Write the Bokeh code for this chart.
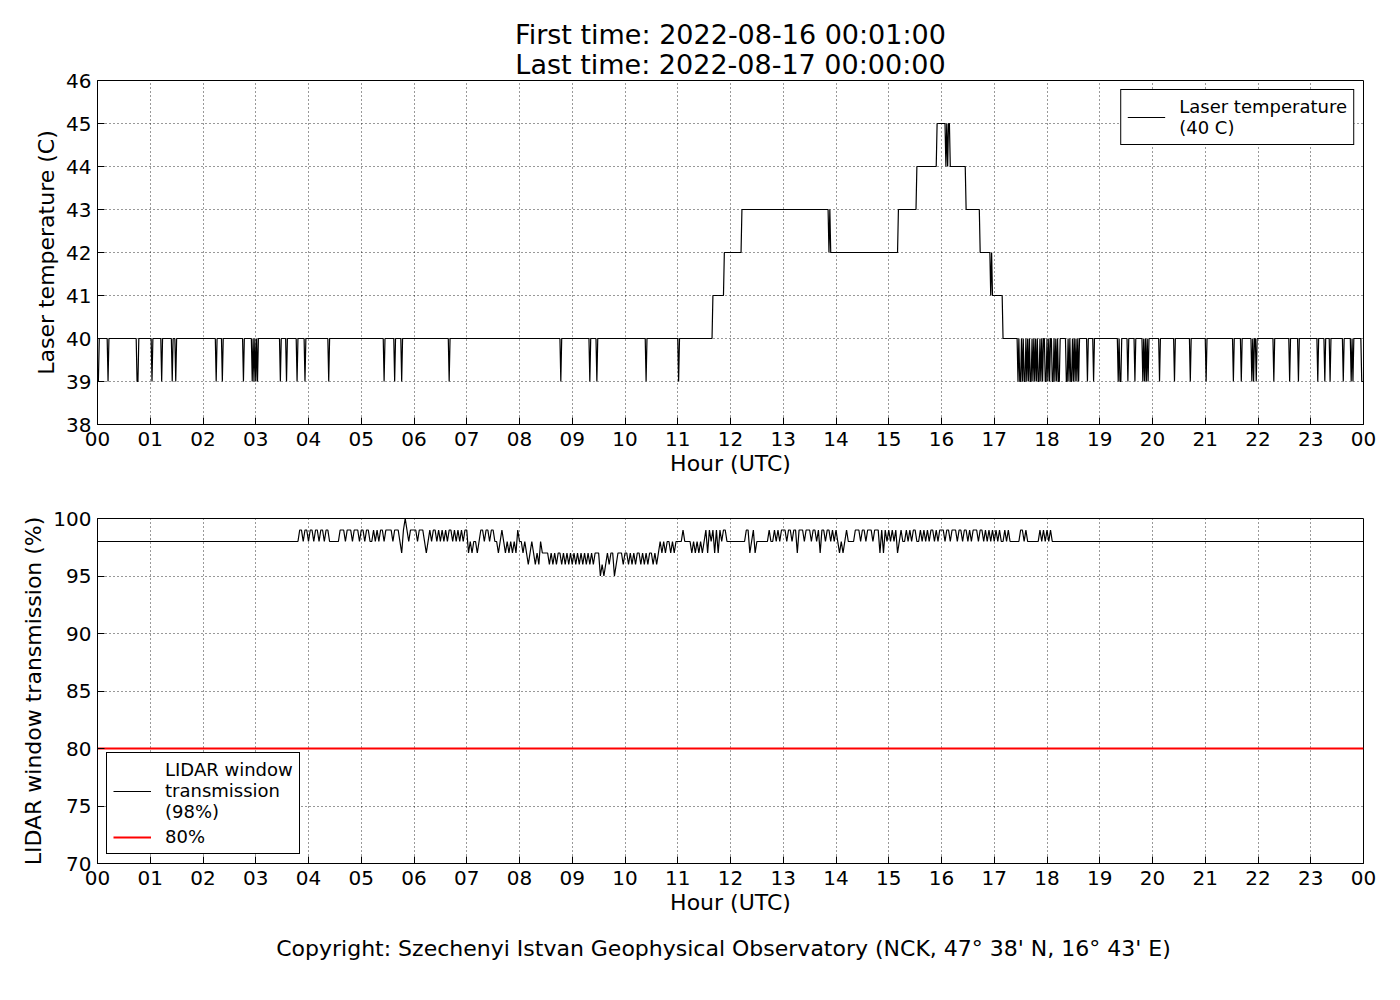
import numpy as np
from bokeh.plotting import figure
from bokeh.models import FixedTicker, Title, Legend, LegendItem, ColumnDataSource, Range1d
from bokeh.layouts import column
from bokeh.embed import file_html
from bokeh.resources import INLINE

# ---------------- data ----------------
title_first = "First time: 2022-08-16 00:01:00"
title_last = "Last time: 2022-08-17 00:00:00"
copyright_text = "Copyright: Szechenyi Istvan Geophysical Observatory (NCK, 47\u00b0  38' N, 16\u00b0  43' E)"

hour_ticks = list(range(25))
hour_labels = ["%02d" % (h % 24) for h in hour_ticks]
laser_ticks = list(range(38, 47))
lidar_ticks = [70, 75, 80, 85, 90, 95, 100]

# laser temperature, 1-minute samples (minute 1 .. 1440 of the day)
laser_step_minutes = [0, 700, 713, 733, 835, 911, 932, 955, 970, 988, 1004, 1018, 1030]
laser_step_levels = [40, 41, 42, 43, 42, 43, 44, 45, 44, 43, 42, 41, 40]
laser_flicker_minutes = [832, 834, 965, 967, 1016]
laser_flicker_levels = [42, 42, 44, 44, 41]
laser_dip_level = 39
laser_dip_minutes = [
    1, 12, 45, 46, 62, 73, 85, 89, 135, 142, 166, 176, 178, 180, 182, 208, 215,
    227, 236, 263, 326, 338, 346, 400, 527, 560, 568, 624, 661,
    1047, 1049, 1050, 1052, 1054, 1055, 1057, 1059, 1061, 1062, 1064, 1066, 1068,
    1070, 1071, 1073, 1075, 1078, 1079, 1081, 1083, 1086, 1087, 1089, 1091, 1093,
    1094, 1102, 1103, 1105, 1107, 1108, 1110, 1112, 1114, 1116, 1126, 1133, 1161,
    1163, 1164, 1172, 1180, 1189, 1191, 1193, 1195, 1208, 1225, 1243, 1261, 1292,
    1301, 1313, 1315, 1318, 1338, 1356, 1366, 1388, 1396, 1402, 1417, 1426, 1428,
    1438, 1439, 1440,
]

# LIDAR window transmission, 2-minute samples per hour; digit d = 90+d %, X = 100 %
lidar_hour_codes = [
    "8888888888" "8888888888" "8888888888",  # 00
    "8888888888" "8888888888" "8888888888",  # 01
    "8888888888" "8888888888" "8888888888",  # 02
    "8888888888" "8888888888" "8888899899",  # 03
    "8998998998" "9988888899" "9899989998",  # 04
    "9989988989" "8998999989" "99879X9899",  # 05
    "9989998789" "8998989898" "9989898989",  # 06
    "9787887899" "8998998878" "9878787879",  # 07
    "8878767876" "7687777676" "7677676767",  # 08
    "6767676767" "6767775656" "7677567776",  # 09
    "7767676776" "7676776767" "8787887878",  # 10
    "8889888878" "7878789798" "9797989988",  # 11
    "8888888889" "9789788888" "8898898989",  # 12
    "9989989979" "9989998998" "9799899898",  # 13
    "9878789888" "8999899899" "9899979798",  # 14
    "9898978988" "9898998898" "9898998989",  # 15
    "9989989998" "9989989899" "9899898989",  # 16
    "8989889898" "8888899898" "8888889898",  # 17
    "9898888888" "8888888888" "8888888888",  # 18
    "8888888888" "8888888888" "8888888888",  # 19
    "8888888888" "8888888888" "8888888888",  # 20
    "8888888888" "8888888888" "8888888888",  # 21
    "8888888888" "8888888888" "8888888888",  # 22
    "8888888888" "8888888888" "8888888888",  # 23
]
lidar_threshold = 80

laser_legend = "Laser temperature\n(40 C)"
lidar_legend = "LIDAR window\ntransmission\n(98%)"
threshold_legend = "80%"

# ---------------- build series ----------------
minutes = np.arange(1, 1441)
laser = np.zeros(len(minutes))
for m0, lv in zip(laser_step_minutes, laser_step_levels):
    laser[minutes >= m0] = lv
for m, lv in zip(laser_flicker_minutes, laser_flicker_levels):
    laser[m - 1] = lv
for m in laser_dip_minutes:
    laser[m - 1] = laser_dip_level
laser_src = ColumnDataSource(dict(t=minutes / 60.0, v=laser))

code_map = {str(d): 90 + d for d in range(10)}
code_map["X"] = 100
lt, lv = [], []
for h, code in enumerate(lidar_hour_codes):
    n = len(code)
    for j, c in enumerate(code):
        lt.append(h + j / n)
        lv.append(code_map[c])
lt.append(float(hour_ticks[-1]))
lv.append(lv[-1])
lidar_src = ColumnDataSource(dict(t=lt, v=lv))

FONT = "DejaVu Sans"
TICK = "20px"
LAB = "22px"


def style(p, yticks):
    p.xaxis.ticker = FixedTicker(ticks=hour_ticks)
    p.xaxis.major_label_overrides = {h: s for h, s in zip(hour_ticks, hour_labels)}
    p.yaxis.ticker = FixedTicker(ticks=yticks)
    for ax in (p.xaxis, p.yaxis):
        ax.major_tick_in = 7
        ax.major_tick_out = 0
        ax.minor_tick_in = 0
        ax.minor_tick_out = 0
        ax.major_label_text_font = FONT
        ax.major_label_text_font_size = TICK
        ax.major_label_text_color = "black"
        ax.axis_label_text_font = FONT
        ax.axis_label_text_font_size = LAB
        ax.axis_label_text_font_style = "normal"
        ax.axis_label_text_color = "black"
        ax.axis_line_color = "black"
        ax.major_tick_line_color = "black"
    p.xaxis.major_label_standoff = 7
    p.yaxis.major_label_standoff = 6
    p.xaxis.axis_label_standoff = 2
    p.yaxis.axis_label_standoff = 4
    for g in (p.xgrid, p.ygrid):
        g.grid_line_color = "black"
        g.grid_line_dash = "1 3"
        g.grid_line_width = 1
        g.grid_line_alpha = 0.8
    p.outline_line_color = "black"
    p.outline_line_width = 1
    p.outline_line_alpha = 1
    p.background_fill_color = "white"


def legend(items, loc):
    lg = Legend(items=items, location=loc)
    lg.label_text_font = FONT
    lg.label_text_font_size = "18px"
    lg.label_text_color = "black"
    lg.border_line_color = "black"
    lg.border_line_width = 1
    lg.border_line_alpha = 1
    lg.background_fill_alpha = 1
    lg.margin = 9
    lg.padding = 6
    lg.spacing = 4
    lg.glyph_width = 38
    lg.label_standoff = 14
    return lg


# ---------------- top figure ----------------
p1 = figure(width=1384, height=480, frame_width=1266, frame_height=344,
            x_range=Range1d(hour_ticks[0], hour_ticks[-1]),
            y_range=Range1d(laser_ticks[0], laser_ticks[-1]),
            output_backend="svg", toolbar_location=None, title=None,
            min_border_left=97, min_border_right=21, min_border_top=80, min_border_bottom=56)
style(p1, laser_ticks)
p1.xaxis.axis_label = "Hour (UTC)"
p1.yaxis.axis_label = "Laser temperature (C)"
r1 = p1.line("t", "v", source=laser_src, line_color="black", line_width=1.2)
p1.add_layout(legend([LegendItem(label=laser_legend, renderers=[r1])], "top_right"))
p1.add_layout(Title(text=title_last, align="center", text_font=FONT, text_font_size="27px",
                    text_font_style="normal", text_color="black", standoff=1), "above")
p1.add_layout(Title(text=title_first, align="center", text_font=FONT, text_font_size="27px",
                    text_font_style="normal", text_color="black", standoff=-6), "above")

# ---------------- bottom figure ----------------
p2 = figure(width=1384, height=483, frame_width=1266, frame_height=345,
            x_range=Range1d(hour_ticks[0], hour_ticks[-1]),
            y_range=Range1d(lidar_ticks[0], lidar_ticks[-1]),
            output_backend="svg", toolbar_location=None, title=None,
            min_border_left=97, min_border_right=21, min_border_top=38, min_border_bottom=100)
style(p2, lidar_ticks)
p2.xaxis.axis_label = "Hour (UTC)"
p2.yaxis.axis_label = "LIDAR window transmission (%)"
r2 = p2.line("t", "v", source=lidar_src, line_color="black", line_width=1.2)
r3 = p2.line(x=[hour_ticks[0], hour_ticks[-1]], y=[lidar_threshold, lidar_threshold],
             line_color="red", line_width=2)
p2.add_layout(legend([LegendItem(label=lidar_legend, renderers=[r2]),
                      LegendItem(label=threshold_legend, renderers=[r3])], "bottom_left"))
p2.add_layout(Title(text=copyright_text, align="center", text_font=FONT, text_font_size="22px",
                    text_font_style="normal", text_color="black", standoff=32, offset=7), "below")

layout = column(p1, p2)
open("out.html", "w").write(file_html(layout, INLINE))
